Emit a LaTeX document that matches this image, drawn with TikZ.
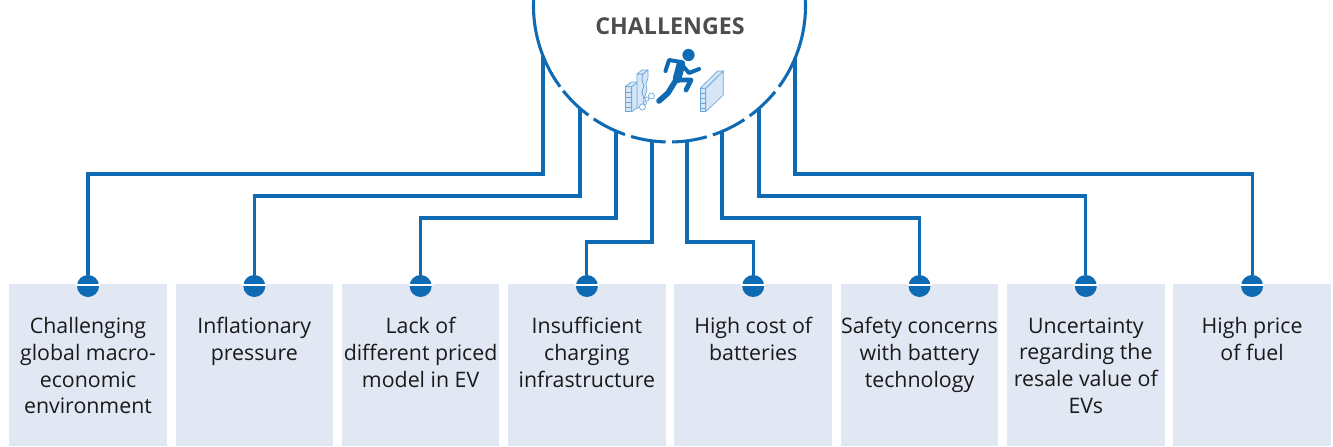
\documentclass[tikz,border=0pt]{standalone}
\usepackage{fontspec}
\setmainfont{Open Sans}
\usetikzlibrary{calc}
\definecolor{lineblue}{HTML}{0F6AB4}
\definecolor{boxfill}{HTML}{E1E7F3}
\definecolor{titlegray}{HTML}{4D4D4D}
\definecolor{textdark}{HTML}{1A1A1A}
\definecolor{iconfill}{HTML}{D6E6F6}
\definecolor{iconline}{HTML}{6AA6DA}
\begin{document}
\begin{tikzpicture}[x=0.75pt,y=0.75pt,
  conn/.style={draw=lineblue,line width=2.3pt},
  arcline/.style={draw=lineblue,line width=2.3pt},
  boxnode/.style={fill=boxfill,draw=none,anchor=north west,minimum width=118.1pt,minimum height=121.5pt,inner sep=0pt},
  dotnode/.style={circle,fill=lineblue,draw=none,minimum size=16.5pt,inner sep=0pt},
  labeltext/.style={anchor=north,align=center,inner sep=0pt,text=textdark,font=\fontsize{16}{20}\selectfont,execute at begin node=\strut},
  wall/.style={fill=iconfill,draw=iconline,line width=0.5pt,line join=round},
  runner/.style={draw=lineblue,line cap=round,line join=round}
]
\useasboundingbox (0,0) rectangle (1333,-446);
\clip (0,0) rectangle (1333,-446);

% boxes
\foreach \i in {1,...,8}{
  \node[boxnode] (b\i) at ({9+166.3*(\i-1)},-284) {};
}
% labels
\node[labeltext] (t1) at (b1.north |- 0,-317.3) {Challenging\\global macro-\\economic\\environment};
\node[labeltext] (t2) at (b2.north |- 0,-317.3) {Inflationary\\pressure};
\node[labeltext] (t3) at (b3.north |- 0,-317.3) {Lack of\\different priced\\model in EV};
\node[labeltext] (t4) at (b4.north |- 0,-317.3) {Insufficient\\charging\\infrastructure};
\node[labeltext] (t5) at (b5.north |- 0,-317.3) {High cost of\\batteries};
\node[labeltext] (t6) at (b6.north |- 0,-317.3) {Safety concerns\\with battery\\technology};
\node[labeltext] (t7) at (b7.north |- 0,-317.3) {Uncertainty\\regarding the\\resale value of\\EVs};
\node[labeltext] (t8) at (b8.north |- 0,-317.3) {High price\\of fuel};

% dots
\foreach \i in {1,...,8}{
  \node[dotnode] (d\i) at ($(b\i.north)+(0,-2)$) {};
  \draw[white,line width=1.5pt] ($(d\i.center)+(-12,1)$) -- ($(d\i.center)+(12,1)$);
}

% circle arc
\coordinate (C) at (669.5,-6);
\draw[arcline] (C) ++(176:136) arc[start angle=176,end angle=216.4,radius=102pt];
\foreach \k in {0,...,5}{
  \draw[arcline] ($(C)+({218.6+17.5*\k}:136)$) arc[start angle={218.6+17.5*\k},end angle={233.4+17.5*\k},radius=102pt];
}
\draw[arcline] (C) ++(323.6:136) arc[start angle=323.6,end angle=364,radius=102pt];

% title
\node[font=\bfseries\fontsize{17.4}{20}\selectfont,text=titlegray] (title) at (670,-26) {CHALLENGES};

% arc attach points
\coordinate (a1) at (543,-55.9);
\coordinate (a2) at (580,-108.4);
\coordinate (a3) at (616,-131.0);
\coordinate (a4) at (652,-140.9);
\coordinate (a5) at (687,-140.9);
\coordinate (a6) at (722,-131.5);
\coordinate (a7) at (759,-108.4);
\coordinate (a8) at (795,-58.4);

\draw[conn] (a1) -- (543,-174) -| (d1.north);
\draw[conn] (a2) -- (580,-196) -| (d2.north);
\draw[conn] (a3) -- (616,-218) -| (d3.north);
\draw[conn] (a4) -- (652,-242) -| (d4.north);
\draw[conn] (a5) -- (687,-242) -| (d5.north);
\draw[conn] (a6) -- (722,-218) -| (d6.north);
\draw[conn] (a7) -- (759,-196) -| (d7.north);
\draw[conn] (a8) -- (795,-174) -| (d8.north);

% icon: right wall
\draw[wall] (700,-88.3) rectangle (705.7,-111.7);
\draw[wall] (705.7,-88.3) -- (723.3,-71) -- (723.3,-95) -- (705.7,-111.7) -- cycle;
\draw[wall] (700,-88.3) -- (717.7,-71) -- (723.3,-71) -- (705.7,-88.3) -- cycle;
\foreach \yy in {-93,-98,-103,-108}{ \draw[iconline,line width=0.3pt] (700,\yy) -- (705.7,\yy); }
% left short block
\draw[wall] (625,-86.7) rectangle (631.7,-111.7);
\draw[wall] (625,-86.7) -- (631.3,-82) -- (638,-82) -- (631.7,-86.7) -- cycle;
\draw[wall] (631.7,-86.7) -- (638,-82) -- (638,-107) -- (631.7,-111.7) -- cycle;
\foreach \yy in {-92,-97,-102,-107}{ \draw[iconline,line width=0.3pt] (625,\yy) -- (631.7,\yy); }
% left tall broken block
\draw[wall] (637,-74) -- (643,-74) -- (642,-80) -- (644,-86) -- (642,-92) -- (644,-99) -- (643,-108) -- (637,-108) -- cycle;
\draw[wall] (637,-74) -- (642,-70) -- (648,-70) -- (643,-74) -- cycle;
\draw[wall] (643,-74) -- (648,-70) -- (648,-78) -- (646,-84) -- (647,-90) -- (645,-96) -- (644,-99) -- (642,-92) -- (644,-86) -- (642,-80) -- cycle;
% rubble
\draw[iconline,line width=0.5pt,fill=white] (651.5,-96) circle[radius=2.3pt];
\draw[iconline,line width=0.5pt,fill=white] (647,-99) circle[radius=1.5pt];
\draw[iconline,line width=0.5pt,fill=white] (642.5,-107) circle[radius=2.3pt];
\draw[iconline,line width=0.5pt,fill=white] (645,-103) circle[radius=1.3pt];

% runner
\fill[lineblue] (688.5,-55) circle[radius=4.6pt];
\draw[runner,line width=6.5pt] (681,-64) -- (677,-79);
\draw[runner,line width=3pt] (681,-62) -- (669,-60) -- (665.5,-71);
\draw[runner,line width=3pt] (683,-66) -- (689,-73) -- (699,-69);
\draw[runner,line width=3.6pt] (678,-80) -- (691,-80) -- (686,-90);
\draw[runner,line width=4.2pt] (676,-80) -- (668,-93) -- (659,-101);
\end{tikzpicture}
\end{document}
